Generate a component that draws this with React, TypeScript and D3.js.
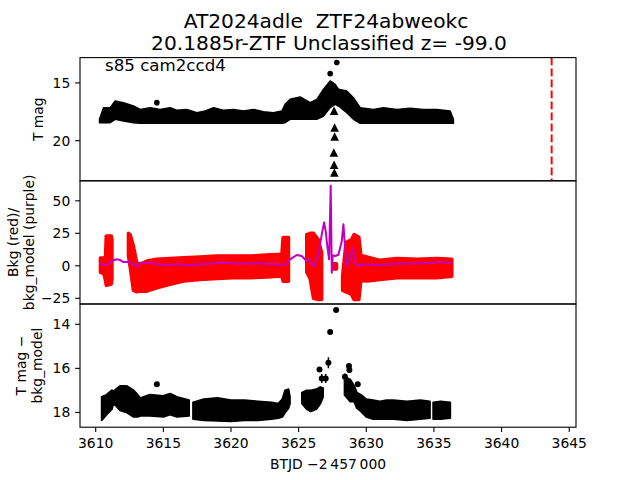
import React from "react";
import * as d3 from "d3";

// ---------------- data ----------------
const titleLines = ["AT2024adle  ZTF24abweokc", "20.1885r-ZTF Unclassified z= -99.0"];
const panelNote = "s85 cam2ccd4";
const xLabel = "BTJD \u22122\u2009457\u2009000";

const xTicks = [3610, 3615, 3620, 3625, 3630, 3635, 3640, 3645];
const magTicks = [15, 20];
const bkgTicks = [-25, 0, 25, 50];
const diffTicks = [14, 16, 18];

// Panel 1: T mag, envelope of the dense light curve (bright edge / faint edge)
const magT = [3610.28, 3610.58, 3611.07, 3611.44, 3612.05, 3612.79, 3613.29, 3614.02, 3614.76, 3615.5, 3615.99, 3616.73, 3617.47, 3618.09, 3618.71, 3619.44, 3620.18, 3620.92, 3621.66, 3622.4, 3623.14, 3623.76, 3624.0, 3624.37, 3625.11, 3625.85, 3626.34, 3626.84, 3627.33, 3627.7, 3627.94, 3628.56, 3629.05, 3629.55, 3630.53, 3631.27, 3632.26, 3633.24, 3634.23, 3635.21, 3636.2, 3636.44];
const magBright = [18.15, 17.14, 17.14, 16.57, 16.71, 17.0, 17.29, 17.14, 17.29, 17.14, 17.37, 17.29, 17.58, 17.43, 17.14, 17.37, 17.29, 17.43, 17.29, 17.49, 17.58, 17.43, 16.85, 16.42, 16.22, 16.71, 16.42, 15.55, 14.83, 15.12, 15.55, 15.7, 16.28, 17.14, 17.29, 17.14, 17.29, 17.2, 17.29, 17.29, 17.43, 18.15];
const magFaint = [18.44, 18.44, 18.44, 18.15, 18.3, 18.44, 18.5, 18.5, 18.5, 18.5, 18.5, 18.5, 18.5, 18.5, 18.5, 18.5, 18.5, 18.5, 18.5, 18.5, 18.5, 18.5, 18.44, 18.15, 18.15, 18.15, 18.15, 17.86, 17.14, 16.85, 17.0, 17.58, 18.15, 18.5, 18.5, 18.5, 18.5, 18.5, 18.5, 18.5, 18.5, 18.5];
const magDotT = [3614.52, 3627.33, 3627.82];
const magDotV = [16.71, 14.2, 13.24];
const limT = [3627.62, 3627.66, 3627.66, 3627.6, 3627.62, 3627.64];
const limMag = [17.43, 18.88, 19.66, 21.04, 22.11, 22.78];
const vlineT = [3643.7];

// Panel 2: background (red, envelope; null = gap) and background model (purple)
const bkgT = [3610.35, 3610.6, 3610.72, 3610.78, 3611.15, 3611.2, 3611.8, 3612.42, 3612.55, 3612.79, 3613.04, 3613.29, 3613.78, 3614.52, 3615.5, 3616.49, 3617.72, 3618.95, 3620.18, 3621.42, 3622.65, 3623.76, 3623.85, 3624.25, 3624.9, 3625.6, 3625.85, 3626.1, 3626.45, 3626.7, 3627.1, 3627.55, 3627.8, 3628.0, 3628.25, 3628.5, 3628.9, 3629.1, 3629.45, 3629.6, 3630.04, 3631.02, 3632.26, 3633.73, 3635.21, 3636.32];
const bkgHi = [6, 6, 5, 23, 23, 20, null, 25, 24, 15, 2, 1.1, 3.7, 5.0, 5.7, 6.2, 6.8, 7.5, 7.5, 7.5, 8.3, 8.8, 21.7, 21.7, null, 24, 25, 25, 20, 10, null, 1.5, 1.5, null, -8, 18, 20, 24, 22, 8, 6.8, 4.2, 5.7, 5.0, 5.7, 5];
const bkgLo = [-5, -6, -11, -15, -14, -10, null, 8, -1, -19, -20, -19.5, -19.5, -16.9, -14.3, -11.8, -10.5, -9.7, -9.2, -9.2, -8.7, -7.9, -11.8, -11.8, null, -5, -10, -25, -26, -26, null, -2.5, -2.5, null, -19, -20, -22, -26, -26, -11, -11.8, -10.5, -9.2, -9.2, -9.2, -8];
const modelT = [3610.33, 3610.7, 3610.95, 3611.19, 3611.56, 3611.81, 3612.05, 3612.42, 3612.79, 3613.04, 3613.29, 3614.02, 3614.52, 3615.26, 3615.99, 3616.98, 3618.21, 3619.44, 3620.68, 3621.91, 3623.14, 3624.0, 3624.37, 3624.86, 3625.23, 3625.55, 3625.75, 3626.1, 3626.46, 3626.71, 3626.88, 3627.0, 3627.13, 3627.25, 3627.37, 3627.45, 3627.52, 3627.7, 3627.94, 3628.19, 3628.31, 3628.43, 3628.56, 3628.8, 3629.0, 3629.17, 3629.42, 3629.67, 3630.78, 3632.26, 3634.23, 3635.7, 3636.32];
const modelV = [1.6, 0.6, 1.1, 3.7, 5.0, 4.4, 2.9, 2.9, 1.1, -0.7, 2.4, 2.4, 1.1, 0.6, 1.1, 0.6, 1.6, 2.4, 1.6, 1.9, 1.1, 0.6, 5.0, 8.3, 7.5, 4.0, 5.0, -0.5, 8.8, 24.2, 33.3, 26.8, 14, 5, 61.5, -5.3, 8, 7.5, 8.5, 19.1, 32, 14, -0.2, 6.2, 14.0, 2.4, -0.2, 1.1, 0.6, 1.6, 1.9, 2.9, 1.9];

// Panel 3: T mag - bkg_model, envelope (null = gap) and isolated points with errors
const diffT = [3610.45, 3610.8, 3611.2, 3611.3, 3611.5, 3611.8, 3612.3, 3612.8, 3613.1, 3613.3, 3614, 3615, 3615.5, 3616, 3616.9, 3617.05, 3617.2, 3618, 3619, 3620, 3621, 3622, 3623, 3623.5, 3623.8, 3624.0, 3624.25, 3624.35, 3624.8, 3625.25, 3625.6, 3625.9, 3626.3, 3626.6, 3626.8, 3627.6, 3628.4, 3628.8, 3629.1, 3629.3, 3629.6, 3630, 3630.5, 3631, 3631.5, 3632, 3633, 3634, 3634.7, 3634.82, 3634.95, 3635.5, 3636.2];
const diffBright = [17.3, 17.2, 17.0, 17.05, 16.95, 16.8, 16.8, 17.0, 17.2, 17.35, 17.2, 17.25, 17.15, 17.3, 17.45, null, 17.55, 17.4, 17.35, 17.45, 17.45, 17.5, 17.55, 17.6, 17.4, 17.0, 16.95, 17.3, null, 17.1, 17.0, 17.0, 16.95, 16.85, 16.9, null, 16.4, 16.5, 16.8, 17.1, 17.2, 17.4, 17.45, 17.5, 17.45, 17.45, 17.5, 17.45, 17.5, null, 17.55, 17.5, 17.55];
const diffFaint = [18.35, 18.1, 17.85, 17.6, 17.7, 17.9, 18.0, 18.2, 18.2, 18.15, 18.15, 18.2, 18.1, 18.2, 18.15, null, 18.3, 18.35, 18.38, 18.4, 18.35, 18.35, 18.3, 18.25, 18.2, 18.0, 17.8, 17.6, null, 17.6, 17.85, 17.95, 17.85, 17.6, 17.3, null, 17.2, 17.5, 17.5, 17.8, 17.95, 18.2, 18.3, 18.3, 18.3, 18.3, 18.35, 18.3, 18.25, null, 18.3, 18.3, 18.25];
const ptT = [3614.52, 3626.54, 3626.71, 3627.0, 3627.2, 3627.33, 3627.77, 3628.42, 3628.72, 3628.75, 3629.37];
const ptMag = [16.72, 16.05, 16.46, 16.46, 15.75, 14.35, 13.35, 16.38, 15.89, 16.07, 16.72];
const ptErr = [0.05, 0.1, 0.2, 0.2, 0.25, 0.05, 0.05, 0.15, 0.1, 0.1, 0.1];

// ---------------- layout ----------------
const W = 640;
const H = 480;
const L = 80;
const R = 576;
const TOP = 57.6;
const PH = 123.2;
const FONT = "DejaVu Sans, sans-serif";
const TICK = 4.86;
const PAD = 4.86;
const FS = 13.89;
const TITLE_FS = 20.2;
const PURPLE = "#bf00bf";

export default function App() {
  const x = d3.scaleLinear().domain([3608.84, 3645.5]).range([L, R]);
  const y1 = d3.scaleLinear().domain([12.81, 23.47]).range([TOP, TOP + PH]);
  const y2 = d3.scaleLinear().domain([65.4, -29.4]).range([TOP + PH, TOP + 2 * PH]);
  const y3 = d3.scaleLinear().domain([13.08, 18.67]).range([TOP + 2 * PH, TOP + 3 * PH]);

  const magArea = d3
    .area<number>()
    .x((i) => x(magT[i]))
    .y0((i) => y1(magFaint[i]))
    .y1((i) => y1(magBright[i]))(d3.range(magT.length)) || "";

  const bkgArea = d3
    .area<number>()
    .defined((i) => bkgHi[i] != null)
    .x((i) => x(bkgT[i]))
    .y0((i) => y2(bkgLo[i] as number))
    .y1((i) => y2(bkgHi[i] as number))(d3.range(bkgT.length)) || "";

  const modelLine = d3
    .line<number>()
    .x((i) => x(modelT[i]))
    .y((i) => y2(modelV[i]))(d3.range(modelT.length)) || "";

  const diffArea = d3
    .area<number>()
    .defined((i) => diffBright[i] != null)
    .x((i) => x(diffT[i]))
    .y0((i) => y3(diffFaint[i] as number))
    .y1((i) => y3(diffBright[i] as number))(d3.range(diffT.length)) || "";

  const panels = [
    { y: y1, ticks: magTicks, top: TOP, id: "p1" },
    { y: y2, ticks: bkgTicks, top: TOP + PH, id: "p2" },
    { y: y3, ticks: diffTicks, top: TOP + 2 * PH, id: "p3" },
  ];

  const fmt = (v: number) => (v < 0 ? "\u2212" + Math.abs(v) : String(v));
  const tri = (cx: number, cy: number) =>
    `M${cx},${cy - 4.5}L${cx + 4.3},${cy + 4}L${cx - 4.3},${cy + 4}Z`;

  return (
    <svg
      width={W}
      height={H}
      style={{ display: "block", position: "absolute", left: 0, top: 0, background: "#fff" }}
      fontFamily={FONT}
    >
      <defs>
        {panels.map((p) => (
          <clipPath id={p.id} key={p.id}>
            <rect x={L} y={p.top} width={R - L} height={PH} />
          </clipPath>
        ))}
      </defs>
      <rect x={0} y={0} width={W} height={H} fill="#fff" />

      {/* Title */}
      <text x={(L + R) / 2 - 2} y={28} textAnchor="middle" fontSize={TITLE_FS} style={{ whiteSpace: "pre" }}>
        {titleLines[0]}
      </text>
      <text x={(L + R) / 2 + 1} y={50} textAnchor="middle" fontSize={TITLE_FS}>
        {titleLines[1]}
      </text>

      {/* Panel 1 */}
      <g clipPath="url(#p1)">
        <path d={magArea} fill="#000" stroke="#000" strokeWidth={1.5} strokeLinejoin="round" />
        {magDotT.map((t, i) => (
          <circle key={i} cx={x(t)} cy={y1(magDotV[i])} r={2.8} fill="#000" />
        ))}
        {limT.map((t, i) => (
          <path key={i} d={tri(x(t), y1(limMag[i]))} fill="#000" />
        ))}
        {vlineT.map((t, i) => (
          <line key={i} x1={x(t)} x2={x(t)} y1={TOP} y2={TOP + PH} stroke="#ff0000" strokeWidth={2} strokeDasharray="7.7 3.3" />
        ))}
      </g>
      <text x={105} y={71} fontSize={16.67}>{panelNote}</text>

      {/* Panel 2 */}
      <g clipPath="url(#p2)">
        <path d={bkgArea} fill="#ff0000" stroke="#ff0000" strokeWidth={3.5} strokeLinejoin="round" strokeLinecap="round" />
        <path d={modelLine} fill="none" stroke={PURPLE} strokeWidth={2} strokeLinejoin="round" />
      </g>

      {/* Panel 3 */}
      <g clipPath="url(#p3)">
        <path d={diffArea} fill="#000" stroke="#000" strokeWidth={2} strokeLinejoin="round" />
        {ptT.map((t, i) => (
          <g key={i}>
            <line x1={x(t)} x2={x(t)} y1={y3(ptMag[i] - ptErr[i])} y2={y3(ptMag[i] + ptErr[i])} stroke="#000" strokeWidth={1.5} />
            <circle cx={x(t)} cy={y3(ptMag[i])} r={3} fill="#000" />
          </g>
        ))}
      </g>

      {/* Axes frames + y ticks */}
      {panels.map((p) => (
        <g key={"ax" + p.id}>
          <rect x={L} y={p.top} width={R - L} height={PH} fill="none" stroke="#000" strokeWidth={1.1} />
          {p.ticks.map((v) => (
            <g key={v}>
              <line x1={L - TICK} x2={L} y1={p.y(v)} y2={p.y(v)} stroke="#000" strokeWidth={1.1} />
              <text x={L - TICK - PAD} y={p.y(v)} dy="0.36em" textAnchor="end" fontSize={FS}>
                {fmt(v)}
              </text>
            </g>
          ))}
        </g>
      ))}

      {/* x ticks (bottom panel) */}
      {xTicks.map((v) => (
        <g key={v}>
          <line x1={x(v)} x2={x(v)} y1={TOP + 3 * PH} y2={TOP + 3 * PH + TICK} stroke="#000" strokeWidth={1.1} />
          <text x={x(v)} y={447.5} textAnchor="middle" fontSize={FS}>
            {v}
          </text>
        </g>
      ))}
      <text x={(L + R) / 2} y={468.5} textAnchor="middle" fontSize={FS}>
        {xLabel}
      </text>

      {/* y labels */}
      <text transform={`translate(43, ${TOP + PH / 2}) rotate(-90)`} textAnchor="middle" fontSize={FS}>
        T mag
      </text>
      <text transform={`translate(17.5, ${TOP + PH * 1.5}) rotate(-90)`} textAnchor="middle" fontSize={FS}>
        Bkg (red)/
      </text>
      <text transform={`translate(33.5, ${TOP + PH * 1.5}) rotate(-90)`} textAnchor="middle" fontSize={FS}>
        bkg_model (purple)
      </text>
      <text transform={`translate(26, ${TOP + PH * 2.5}) rotate(-90)`} textAnchor="middle" fontSize={FS}>
        T mag {"\u2212"}
      </text>
      <text transform={`translate(42, ${TOP + PH * 2.5}) rotate(-90)`} textAnchor="middle" fontSize={FS}>
        bkg_model
      </text>
    </svg>
  );
}
